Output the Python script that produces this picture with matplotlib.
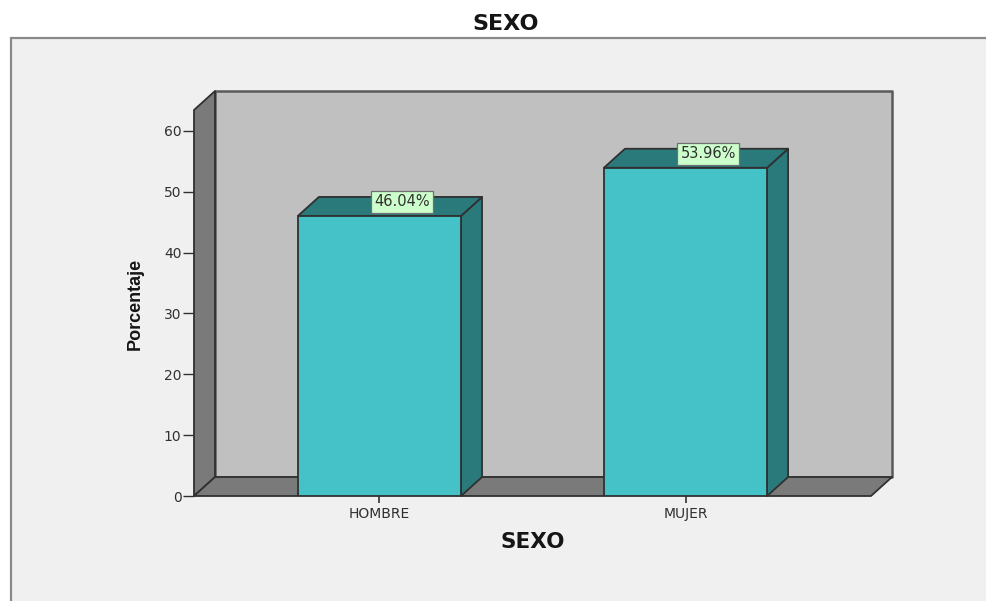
import matplotlib
matplotlib.use("Agg")
import matplotlib.pyplot as plt
from matplotlib.patches import Polygon, Rectangle

categories = ["HOMBRE", "MUJER"]
percentages = [46.04, 53.96]
labels = ["46.04%", "53.96%"]
y_ticks = [0, 10, 20, 30, 40, 50, 60]

W, H = 987, 601
bar_width = 0.533
depth_x = 0.0686   # 3D offset in category units
depth_y = 3.12     # 3D offset in percent units
y_top = 63.45
x_lo, x_hi = -0.606, 1.606

fig = plt.figure(figsize=(W / 100, H / 100), dpi=100, facecolor="white")

# grey panel behind the chart
fig.add_artist(Rectangle((11 / W, -0.01), 1.0, (H - 38) / H + 0.01, transform=fig.transFigure,
                         facecolor="#f0f0f0", edgecolor="#8a8a8a", linewidth=1.6, zorder=-1))

ax = fig.add_axes([194 / W, (H - 496) / H, (871 - 194) / W, (496 - 110) / H])
ax.set_facecolor("none")
ax.set_xlim(x_lo, x_hi)
ax.set_ylim(0, y_top)


def face(points, color, edge="#303030", lw=1.3, z=2):
    ax.add_patch(Polygon(points, closed=True, facecolor=color, edgecolor=edge,
                         linewidth=lw, clip_on=False, zorder=z, joinstyle="round"))


# back wall, left wall, floor
face([(x_lo + depth_x, depth_y), (x_hi + depth_x, depth_y), (x_hi + depth_x, y_top + depth_y),
      (x_lo + depth_x, y_top + depth_y)], "#c0c0c0", edge="#5a5a5a", lw=1.8, z=1)
face([(x_lo, 0), (x_lo + depth_x, depth_y), (x_lo + depth_x, y_top + depth_y), (x_lo, y_top)],
     "#7a7a7a", z=1.5)
face([(x_lo, 0), (x_hi, 0), (x_hi + depth_x, depth_y), (x_lo + depth_x, depth_y)],
     "#7a7a7a", z=1.5)

# bars with top and side faces
for i, val in enumerate(percentages):
    left = i - bar_width / 2
    right = i + bar_width / 2
    face([(right, 0), (right + depth_x, depth_y), (right + depth_x, val + depth_y), (right, val)], "#2a7a7c", z=3)
    face([(left, val), (right, val), (right + depth_x, val + depth_y), (left + depth_x, val + depth_y)], "#2a7a7c", z=3)
    ax.bar(i, val, width=bar_width, color="#45c1c8", edgecolor="#303030", linewidth=1.3, zorder=4)
    ax.text(i + 0.074, val + 2.3, labels[i], ha="center", va="center", fontsize=10.5,
            family="DejaVu Sans", color="#303030", zorder=6,
            bbox=dict(boxstyle="square,pad=0.24", facecolor="#ccffcc", edgecolor="#707070", linewidth=0.9))

ax.set_xticks(range(len(categories)))
ax.set_xticklabels(categories, fontsize=10, family="DejaVu Sans", color="#303030")
ax.set_yticks(y_ticks)
ax.set_yticklabels([str(t) for t in y_ticks], fontsize=10, family="DejaVu Sans", color="#303030")
ax.tick_params(axis="x", length=5, width=1.2, color="#303030", pad=3)
ax.tick_params(axis="y", length=8, width=1, color="#303030", pad=1)

for side in ["top", "right", "bottom", "left"]:
    ax.spines[side].set_visible(False)

fig.text(506 / W, (H - 24) / H, "SEXO", ha="center", va="center", fontsize=16,
         fontweight="bold", family="DejaVu Sans", color="#151515")
fig.text(533 / W, (H - 542) / H, "SEXO", ha="center", va="center", fontsize=15.5,
         fontweight="bold", family="DejaVu Sans", color="#151515")
fig.text(135 / W, (H - 304) / H, "Porcentaje", ha="center", va="center", rotation=90,
         fontsize=13, fontweight="bold", family=["Liberation Sans Narrow", "Liberation Sans"],
         color="#151515")

fig.savefig("out.png", dpi=100)
